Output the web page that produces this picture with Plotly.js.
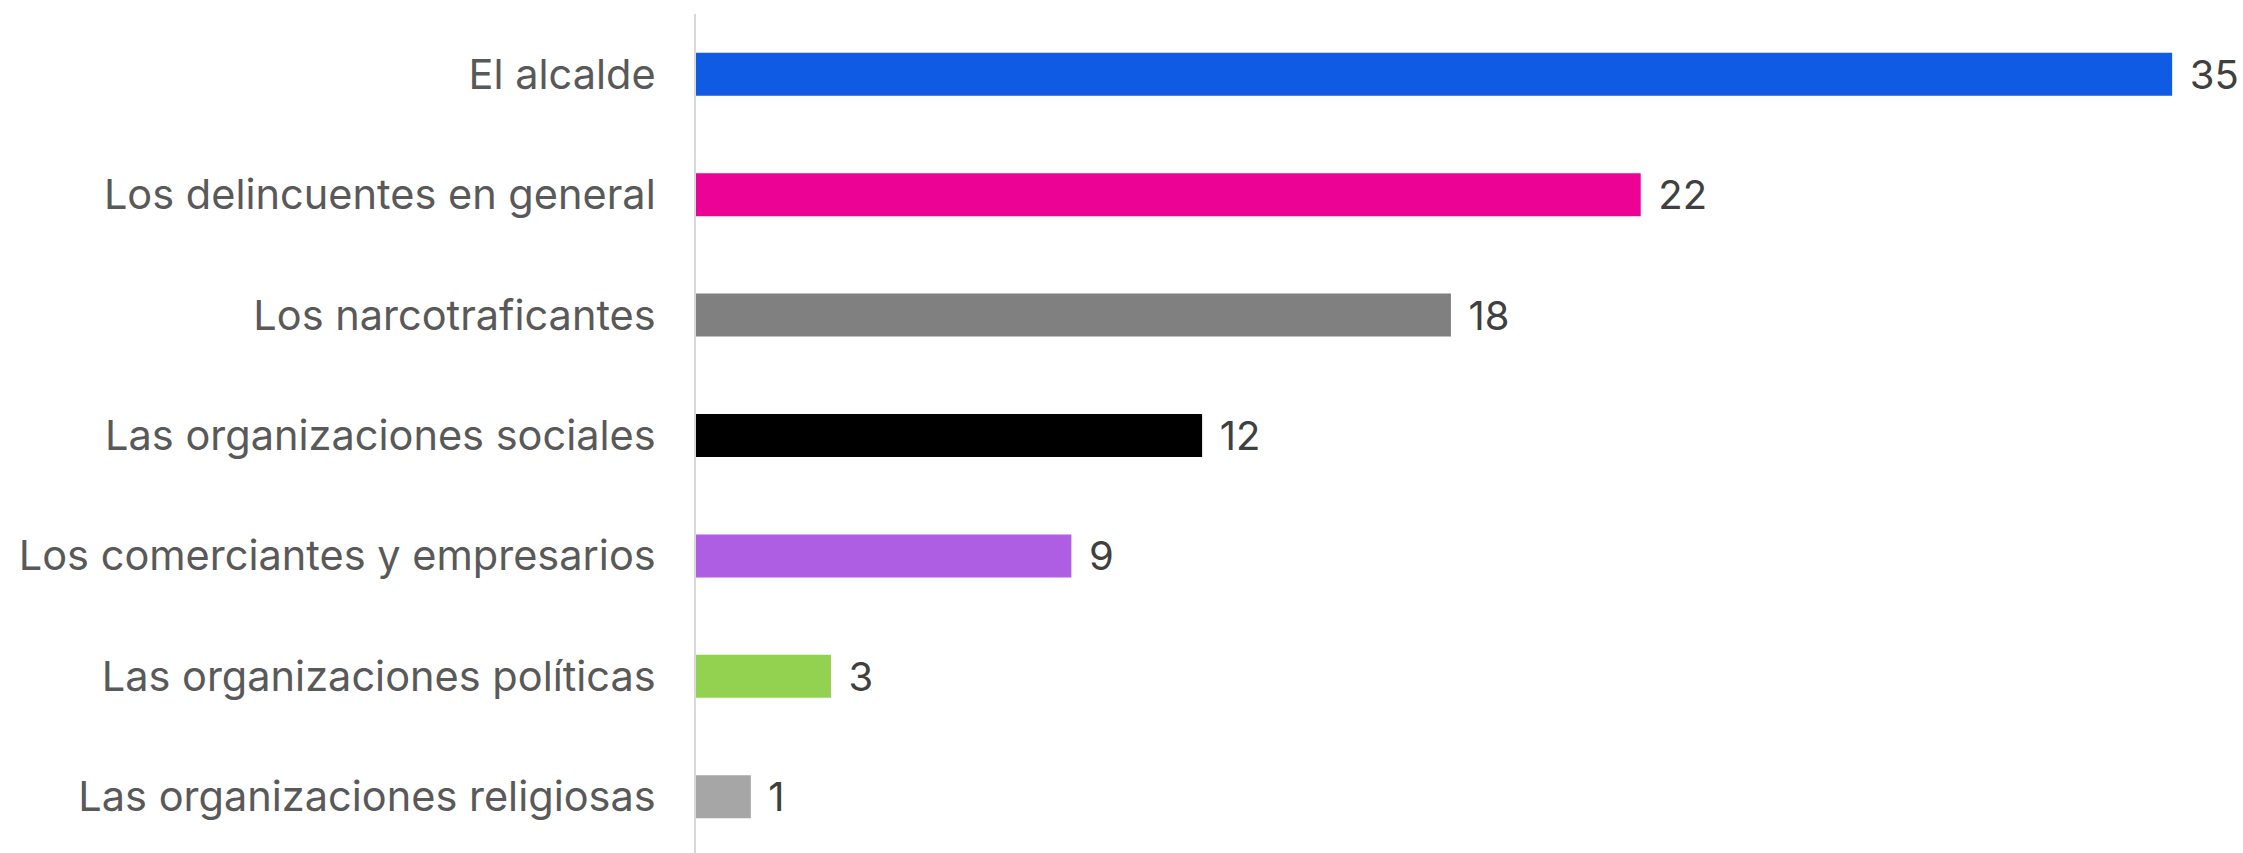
<!DOCTYPE html>
<html>
<head>
<meta charset="utf-8">
<script src="https://cdn.plot.ly/plotly-3.0.1.min.js"></script>
<style>html,body{margin:0;padding:0;background:#fff;}#chart{width:2243px;height:853px;}</style>
</head>
<body>
<div id="chart"></div>
<script>
const categories = [
  "El alcalde",
  "Los delincuentes en general",
  "Los narcotraficantes",
  "Las organizaciones sociales",
  "Los comerciantes y empresarios",
  "Las organizaciones políticas",
  "Las organizaciones religiosas"
];
const values = [35, 22.4, 17.9, 12.0, 8.9, 3.2, 1.3];
const colors = ["#105BE3", "#EC0396", "#808080", "#000000", "#AE5EE3", "#93D250", "#A6A6A6"];

const trace = {
  type: "bar",
  orientation: "h",
  x: values,
  y: categories,
  marker: {color: colors},
  texttemplate: "\u2009\u2009%{x:.0f}",
  textposition: "outside",
  constraintext: "none",
  cliponaxis: false,
  textfont: {family: "Inter, Roboto, sans-serif", size: 40, color: "#404040"},
  hoverinfo: "none"
};

const layout = {
  width: 2243,
  height: 853,
  margin: {l: 696, r: 0, t: 14, b: 0, pad: 0},
  paper_bgcolor: "#ffffff",
  plot_bgcolor: "#ffffff",
  showlegend: false,
  bargap: 0.643,
  xaxis: {
    range: [0, 36.68],
    showgrid: false,
    zeroline: false,
    showline: false,
    showticklabels: false,
    ticks: ""
  },
  yaxis: {
    type: "category",
    categoryorder: "array",
    categoryarray: categories,
    range: [6.467, -0.5],
    showgrid: false,
    zeroline: false,
    showline: true,
    linecolor: "#D9D9D9",
    linewidth: 2,
    ticks: "",
    ticklabelstandoff: 30,
    tickfont: {family: "Inter, Roboto, sans-serif", size: 41.5, color: "#595959"}
  }
};

Plotly.newPlot("chart", [trace], layout, {staticPlot: true, displayModeBar: false});
</script>
</body>
</html>
